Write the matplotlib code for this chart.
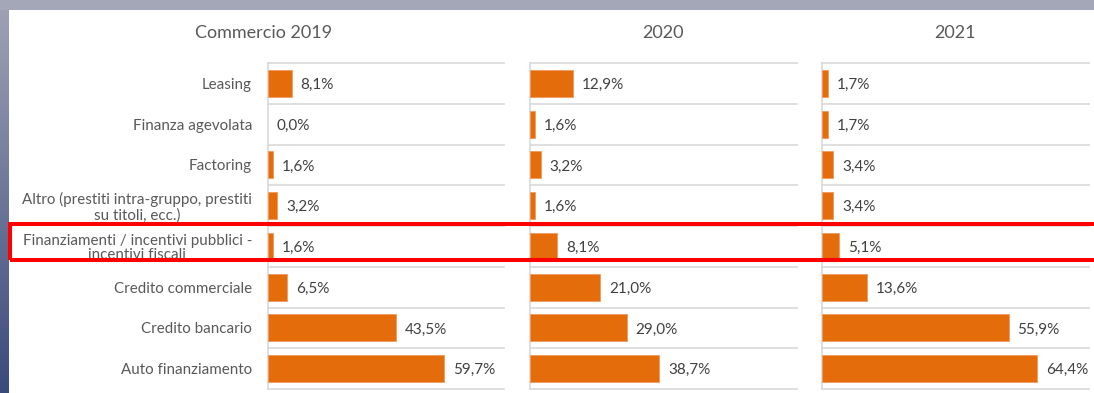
import numpy as np
import matplotlib
matplotlib.use("Agg")
import matplotlib.pyplot as plt
from matplotlib.patches import Rectangle

categories = [
    "Leasing",
    "Finanza agevolata",
    "Factoring",
    "Altro (prestiti intra-gruppo, prestiti\nsu titoli, ecc.)",
    "Finanziamenti / incentivi pubblici -\nincentivi fiscali",
    "Credito commerciale",
    "Credito bancario",
    "Auto finanziamento",
]
titles = ["Commercio 2019", "2020", "2021"]
v2019 = [8.1, 0.0, 1.6, 3.2, 1.6, 6.5, 43.5, 59.7]
v2020 = [12.9, 1.6, 3.2, 1.6, 8.1, 21.0, 29.0, 38.7]
v2021 = [1.7, 1.7, 3.4, 3.4, 5.1, 13.6, 55.9, 64.4]
series = [v2019, v2020, v2021]

W, H = 1094, 393
plt.rcParams["font.family"] = ["Lato", "DejaVu Sans"]
fig = plt.figure(figsize=(W / 100, H / 100), dpi=100)
fig.patch.set_facecolor("white")

def fx(px):
    return px / W

def fy(py):
    return 1 - py / H

# frame decoration: grey strip on top, blue gradient strip on the left
bg = fig.add_axes([0, 0, 1, 1], zorder=-10)
bg.axis("off")
bg.add_patch(Rectangle((0, 0), W, 10, color="#a3a7b7", lw=0))
grad = np.linspace(0, 1, 200)[:, None]
top_c = np.array([0.63, 0.64, 0.71])
bot_c = np.array([0.23, 0.29, 0.49])
img = (top_c[None, None, :] * (1 - grad[..., None]) + bot_c[None, None, :] * grad[..., None])
bg.imshow(img, extent=(0, 9, H, 0), aspect="auto")
bg.set_xlim(0, W)
bg.set_ylim(H, 0)

orange = "#E46C0A"
panels = [(268, 236), (530, 267), (822, 267)]
title_x = [264, 663, 955]
top_px, bot_px = 63, 389
n = len(categories)
y = np.arange(n)

for i, ((left, width), vals) in enumerate(zip(panels, series)):
    ax = fig.add_axes([fx(left), fy(bot_px), fx(width), (bot_px - top_px) / H])
    bars = ax.barh(y, vals, height=0.66, color=orange, edgecolor="#F09A5C",
                   linewidth=0.6, zorder=3)
    for b, v in zip(bars, vals):
        if v == 0:
            b.set_linewidth(0)
    ax.set_xlim(0, 80)
    ax.set_ylim(n - 0.5, -0.5)
    for b in np.arange(-0.5, n, 1.0):
        ax.axhline(b, color="#d9d9d9", lw=1.2, zorder=1, clip_on=False)
    for s in ["top", "right", "bottom"]:
        ax.spines[s].set_visible(False)
    ax.spines["left"].set_color("#d9d9d9")
    ax.spines["left"].set_linewidth(1.2)
    ax.set_xticks([])
    ax.set_yticks(y)
    if i == 0:
        ax.set_yticklabels(categories, fontsize=10.9, color="#595959",
                           multialignment="center", linespacing=1.05)
        ax.tick_params(axis="y", length=0, pad=11.5)
    else:
        ax.set_yticklabels([])
        ax.tick_params(axis="y", length=0)
    for yy, v in zip(y, vals):
        ax.annotate(f"{v:.1f}".replace(".", ",") + "%", (v, yy), xytext=(6.3, -1.2),
                    textcoords="offset points", va="center", ha="left",
                    fontsize=11, color="#404040", zorder=4)
    ax.set_facecolor("none")
    fig.text(fx(title_x[i]), fy(33), titles[i], ha="center", va="center",
             fontsize=13, color="#595959")

# highlight box around the public-incentives row
fig.patches.append(Rectangle((fx(10), fy(260)), fx(1100 - 10), (260 - 224) / H,
                             transform=fig.transFigure, fill=False,
                             edgecolor="#ff0000", linewidth=2.9, zorder=20))

fig.savefig("out.png", dpi=100)
